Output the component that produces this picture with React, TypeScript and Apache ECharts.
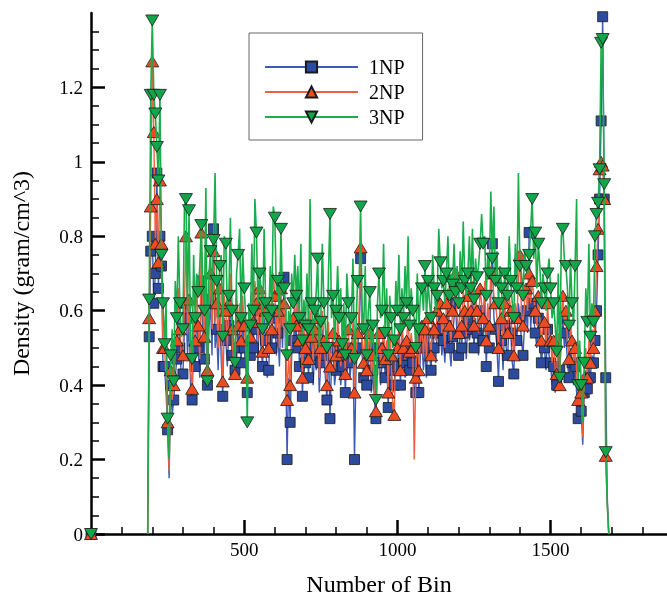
import React, { useEffect, useRef } from 'react';
import * as echarts from 'echarts';

const BIN_START = 190;
const BIN_STEP = 5;
const SERIES_NAMES = ['1NP', '2NP', '3NP'];

const np1 = [
  .53, .76, .80, .62, .70, .97, .66, .80, .72, .45,
  .45, .38, .28, .15, .40, .32, .36, .42, .47, .60,
  .50, .42, .43, .55, .62, .48, .58, .40, .36, .52,
  .45, .60, .50, .42, .68, .55, .47, .62, .40, .55,
  .63, .48, .82, .50, .55, .44, .60, .47, .37, .58,
  .52, .45, .56, .62, .48, .42, .44, .60, .50, .55,
  .46, .58, .50, .45, .38, .52, .48, .58, .50, .62,
  .55, .46, .60, .50, .45, .58, .52, .42, .44, .56,
  .50, .62, .58, .48, .54, .45, .60, .50, .69, .48,
  .20, .42, .30, .48, .52, .56, .50, .70, .45, .55,
  .37, .50, .46, .52, .42, .55, .48, .40, .50, .44,
  .52, .38, .46, .55, .48, .42, .36, .52, .31, .46,
  .50, .40, .44, .54, .47, .40, .45, .52, .38, .48,
  .50, .42, .46, .52, .20, .44, .50, .55, .74, .48,
  .42, .52, .40, .46, .50, .38, .44, .36, .31, .45,
  .50, .40, .46, .52, .42, .48, .34, .50, .44, .38,
  .40, .48, .45, .52, .40, .55, .46, .42, .48, .52,
  .44, .50, .46, .40, .38, .52, .38, .48, .52, .44,
  .50, .42, .54, .48, .44, .56, .50, .46, .54, .60,
  .55, .48, .52, .46, .56, .62, .50, .45, .53, .58,
  .62, .52, .48, .56, .50, .60, .54, .47, .58, .52,
  .55, .62, .50, .58, .54, .48, .60, .55, .52, .62,
  .45, .56, .50, .64, .78, .58, .55, .50, .41, .56,
  .52, .44, .56, .50, .48, .58, .54, .46, .43, .56,
  .52, .62, .58, .52, .48, .56, .60, .54, .81, .55,
  .62, .58, .54, .50, .58, .52, .46, .50, .50, .44,
  .55, .48, .46, .40, .45, .38, .40, .48, .44, .52,
  .58, .50, .54, .46, .42, .50, .46, .40, .45, .38,
  .31, .36, .33, .24, .38, .44, .39, .45, .42, .48,
  .46, .52, .60, .75, .90, 1.11, 1.39, .90, .42, .10,
];

const np2 = [
  .58, .88, 1.27, 1.08, .78, .90, .73, .95, .78, .50,
  .50, .42, .30, .17, .44, .36, .40, .50, .52, .66,
  .55, .47, .48, .62, .80, .54, .63, .44, .39, .58,
  .52, .68, .56, .47, .81, .60, .53, .70, .44, .60,
  .70, .55, .76, .57, .62, .50, .66, .52, .41, .64,
  .60, .50, .62, .70, .55, .46, .43, .66, .56, .62,
  .52, .64, .56, .50, .42, .58, .53, .65, .57, .68,
  .62, .52, .66, .56, .49, .64, .60, .48, .50, .62,
  .55, .70, .64, .54, .60, .50, .66, .56, .62, .54,
  .36, .48, .40, .55, .58, .62, .56, .66, .52, .60,
  .42, .55, .50, .58, .47, .60, .53, .46, .55, .48,
  .58, .42, .50, .60, .52, .46, .40, .57, .45, .50,
  .54, .44, .48, .58, .52, .45, .49, .56, .43, .53,
  .55, .46, .50, .57, .38, .48, .54, .60, .77, .52,
  .46, .56, .44, .50, .54, .42, .48, .40, .33, .50,
  .54, .45, .50, .56, .47, .52, .38, .55, .48, .34,
  .32, .52, .50, .56, .44, .58, .50, .47, .52, .58,
  .49, .54, .50, .20, .42, .56, .44, .52, .56, .48,
  .55, .47, .58, .52, .48, .60, .55, .52, .60, .64,
  .62, .54, .58, .50, .62, .66, .56, .52, .60, .64,
  .70, .58, .54, .62, .56, .66, .60, .53, .64, .58,
  .60, .68, .56, .64, .60, .54, .66, .62, .58, .68,
  .52, .62, .56, .72, .70, .64, .62, .58, .50, .62,
  .58, .50, .62, .56, .54, .64, .60, .52, .48, .62,
  .58, .68, .75, .60, .56, .62, .66, .60, .70, .62,
  .68, .64, .60, .56, .64, .58, .52, .56, .57, .50,
  .62, .54, .52, .46, .52, .44, .43, .54, .40, .58,
  .64, .56, .60, .52, .47, .56, .52, .46, .50, .44,
  .36, .40, .38, .26, .42, .50, .42, .52, .46, .55,
  .50, .60, .72, .82, .98, 1.0, .99, .90, .21, .08,
];

const np3 = [
  .63, 1.18, 1.38, 1.18, 1.13, 1.04, .95, 1.18, .75, .62,
  .51, .62, .31, .20, .48, .55, .41, .68, .58, .80,
  .62, .53, .55, .88, .90, .60, .87, .52, .47, .75,
  .58, .70, .65, .72, .83, .66, .60, .93, .41, .70,
  .76, .62, .79, .97, .68, .58, .72, .75, .53, .80,
  .78, .60, .64, .85, .60, .52, .46, .70, .75, .82,
  .58, .76, .66, .58, .30, .62, .56, .78, .60, .90,
  .81, .62, .70, .66, .55, .82, .62, .55, .58, .72,
  .60, .88, .85, .65, .68, .58, .82, .64, .66, .62,
  .48, .60, .55, .70, .62, .75, .64, .72, .58, .78,
  .52, .63, .56, .70, .55, .90, .62, .52, .60, .65,
  .74, .50, .57, .78, .62, .55, .50, .70, .86, .58,
  .64, .52, .60, .72, .58, .66, .51, .62, .48, .70,
  .62, .54, .58, .74, .47, .56, .68, .66, .88, .60,
  .55, .72, .48, .60, .65, .50, .56, .46, .36, .62,
  .70, .58, .60, .78, .54, .66, .48, .64, .58, .50,
  .52, .68, .60, .75, .55, .66, .58, .72, .62, .80,
  .56, .66, .60, .58, .50, .70, .55, .64, .66, .60,
  .72, .58, .68, .62, .58, .75, .66, .60, .64, .82,
  .73, .66, .68, .62, .70, .80, .64, .70, .67, .78,
  .65, .72, .62, .76, .66, .84, .68, .64, .70, .80,
  .66, .82, .63, .74, .69, .72, .78, .86, .78, .80,
  .64, .75, .70, .92, .74, .88, .68, .76, .62, .72,
  .66, .58, .70, .66, .64, .80, .68, .62, .58, .78,
  .66, .97, .72, .70, .64, .76, .72, .70, .75, .82,
  .90, .74, .81, .66, .78, .72, .62, .70, .66, .60,
  .70, .74, .66, .58, .62, .56, .49, .70, .42, .80,
  .82, .74, .72, .66, .56, .74, .62, .56, .72, .90,
  .40, .52, .40, .30, .46, .66, .57, .78, .53, .62,
  .57, .80, .86, .89, .98, 1.32, 1.33, .94, .22, .08,
];

const X_MAJOR = [500, 1000, 1500];
const X_MINOR = [100, 200, 300, 400, 600, 700, 800, 900, 1100, 1200, 1300, 1400, 1600, 1700, 1800];
const Y_MAJOR = [0, 0.2, 0.4, 0.6, 0.8, 1, 1.2];
const Y_MINOR = [0.05, 0.1, 0.15, 0.25, 0.3, 0.35, 0.45, 0.5, 0.55, 0.65, 0.7, 0.75, 0.85, 0.9, 0.95, 1.05, 1.1, 1.15, 1.25, 1.3, 1.35];

const FONT = '"Liberation Serif", "Times New Roman", serif';

const isMarker = (i: number, n: number) => i % 2 === 0 || i < 10 || (i > 290 && i < n - 1);

function buildData(vals: number[]) {
  const d: any[] = [
    { value: [0, 0] },
    { value: [90, '-'], symbol: 'none' },
    { value: [BIN_START - BIN_STEP, 0], symbol: 'none' },
  ];
  vals.forEach((v, i) => {
    const item: any = { value: [BIN_START + i * BIN_STEP, v] };
    if (!isMarker(i, vals.length)) item.symbol = 'none';
    d.push(item);
  });
  d.push({ value: [BIN_START + vals.length * BIN_STEP, 0], symbol: 'none' });
  return d;
}

export default function App() {
  const ref = useRef<HTMLDivElement>(null);
  useEffect(() => {
    if (!ref.current) return;
    const chart = echarts.init(ref.current, null, { renderer: 'svg' });
    const axisText = { fontFamily: FONT, fontSize: 19, color: '#000' };
    const nameText = { fontFamily: FONT, fontSize: 24, color: '#000' };
    const styles = [
      { symbol: 'rect', size: 10, line: '#3c5cb4', fill: '#2d4b9e', lw: 1.4 },
      { symbol: 'triangle', size: [13, 11], line: '#f06040', fill: '#ee4b22', lw: 1.4 },
      { symbol: 'path://M0,0L10,0L5,8.66Z', size: [13, 11], line: '#1aad4c', fill: '#12a64a', lw: 1.6 },
    ];
    const seriesData = [np1, np2, np3];
    chart.setOption({
      animation: false,
      grid: { left: 91, right: 0, top: 13, bottom: 61, containLabel: false },
      legend: {
        data: SERIES_NAMES,
        orient: 'vertical',
        left: 249,
        top: 33,
        itemWidth: 93,
        itemHeight: 14,
        itemGap: 5,
        padding: [24, 18, 13, 15],
        borderColor: '#666',
        borderWidth: 1,
        textStyle: { fontFamily: FONT, fontSize: 20, color: '#000', padding: [0, 0, 0, 6] },
      },
      xAxis: [
        {
          type: 'value', min: 0, max: 1880, position: 'bottom',
          axisLine: { show: true, lineStyle: { color: '#000', width: 2.5 } },
          axisTick: { show: true, inside: true, length: 14, lineStyle: { color: '#000', width: 2.5 }, customValues: X_MAJOR },
          axisLabel: { ...axisText, margin: 6, customValues: X_MAJOR, formatter: (v: number) => String(v) },
          splitLine: { show: false },
          name: 'Number of Bin', nameLocation: 'middle', nameGap: 38, nameTextStyle: nameText,
        },
        {
          type: 'value', min: 0, max: 1880, position: 'bottom',
          axisLine: { show: false },
          axisTick: { show: true, inside: true, length: 7, lineStyle: { color: '#000', width: 1.5 }, customValues: X_MINOR },
          axisLabel: { show: false },
          splitLine: { show: false },
        },
      ],
      yAxis: [
        {
          type: 'value', min: 0, max: 1.4, position: 'left',
          axisLine: { show: true, lineStyle: { color: '#000', width: 2.5 } },
          axisTick: { show: true, inside: true, length: 14, lineStyle: { color: '#000', width: 2.5 }, customValues: Y_MAJOR },
          axisLabel: { ...axisText, margin: 8, customValues: Y_MAJOR, formatter: (v: number) => String(+v.toFixed(2)) },
          splitLine: { show: false },
          name: 'Density (gram/cm^3)', nameLocation: 'middle', nameGap: 58, nameTextStyle: nameText,
        },
        {
          type: 'value', min: 0, max: 1.4, position: 'left',
          axisLine: { show: false },
          axisTick: { show: true, inside: true, length: 8, lineStyle: { color: '#000', width: 1.5 }, customValues: Y_MINOR },
          axisLabel: { show: false },
          splitLine: { show: false },
        },
      ],
      series: seriesData.map((vals, k) => ({
        name: SERIES_NAMES[k],
        type: 'line',
        xAxisIndex: 0,
        yAxisIndex: 0,
        data: buildData(vals),
        symbol: styles[k].symbol,
        symbolSize: styles[k].size,
        showAllSymbol: true,
        z: 2 + k,
        lineStyle: { color: styles[k].line, width: styles[k].lw },
        itemStyle: { color: styles[k].fill, borderColor: '#1a1a1a', borderWidth: 0.8 },
        emphasis: { disabled: true },
        silent: true,
      })),
    });
    return () => chart.dispose();
  }, []);
  return <div ref={ref} style={{ position: 'fixed', left: 0, top: 0, width: 667, height: 601 }} />;
}
